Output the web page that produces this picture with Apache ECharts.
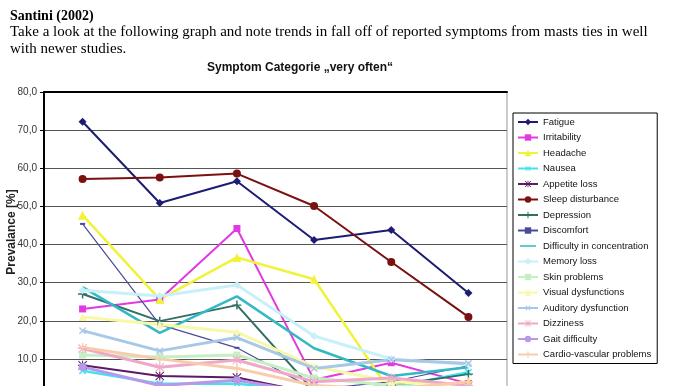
<!DOCTYPE html>
<html>
<head>
<meta charset="utf-8">
<script src="https://cdn.jsdelivr.net/npm/echarts@6/dist/echarts.min.js"></script>
<style>
html,body{margin:0;padding:0;background:#fff;}
#c{width:687px;height:386px;}
</style>
</head>
<body>
<div id="c"></div>
<script>
// ---- data ----
const categories = ['< 10 m', '10 - 50 m', '50 - 100 m', '100 - 200 m', '200 - 300 m', '> 300 m'];
const yTicks = [0, 10, 20, 30, 40, 50, 60, 70, 80];
const seriesNames = ['Fatigue', 'Irritability', 'Headache', 'Nausea', 'Appetite loss', 'Sleep disturbance',
  'Depression', 'Discomfort', 'Difficulty in concentration', 'Memory loss', 'Skin problems',
  'Visual dysfunctions', 'Auditory dysfunction', 'Dizziness', 'Gait difficulty', 'Cardio-vascular problems'];
const fatigue       = [72.2, 50.9, 56.6, 41.2, 43.8, 27.3];
const irritability  = [23.1, 25.6, 44.2, 4.5, 9.0, 3.5];
const headache      = [47.7, 25.6, 36.6, 30.9, 1.0, 4.0];
const nausea        = [6.9, 3.5, 3.5, 1.5, 2.5, 6.5];
const appetiteLoss  = [8.3, 5.5, 5.1, 1.0, 2.0, 1.5];
const sleepDist     = [57.2, 57.6, 58.6, 50.1, 35.4, 21.0];
const depression    = [27.0, 19.9, 24.1, 1.5, 3.0, 6.0];
const discomfort    = [45.4, 19.0, 12.9, 2.0, 4.0, 8.2];
const concentration = [28.8, 16.8, 26.4, 12.8, 5.5, 7.8];
const memoryLoss    = [28.0, 26.5, 29.4, 16.0, 10.0, 8.5];
const skinProblems  = [11.0, 10.5, 11.0, 5.0, 3.0, 2.5];
const visualDysf    = [21.0, 19.0, 17.0, 8.0, 4.0, 3.0];
const auditoryDysf  = [17.4, 12.1, 15.6, 7.5, 9.8, 8.8];
const dizziness     = [12.7, 7.8, 9.7, 4.0, 5.0, 3.0];
const gaitDiff      = [7.9, 3.0, 4.4, 1.0, 1.5, 1.0];
const cardio        = [13.0, 10.0, 7.5, 3.0, 2.0, 4.0];
const allValues = [fatigue, irritability, headache, nausea, appetiteLoss, sleepDist, depression, discomfort,
  concentration, memoryLoss, skinProblems, visualDysf, auditoryDysf, dizziness, gaitDiff, cardio];

// ---- styles ----
const PLUS = 'path://M4.2,0H5.8V4.2H10V5.8H5.8V10H4.2V5.8H0V4.2H4.2Z';
const STAR = 'path://M4.4,0H5.6V10H4.4Z M0,4.4H10V5.6H0Z M0.8,0L10,9.2L9.2,10L0,0.8Z M9.2,0L10,0.8L0.8,10L0,9.2Z';
const LINE_ONLY = 'path://M0,0H0.001V0.001H0Z M0,10H0.001V10.001H0Z M0,4H20V6H0Z';
const styles = [
  {c:'#1c1c74', s:'diamond', z:8, w:2},
  {c:'#e03ae0', s:'rect', z:7, w:2},
  {c:'#f2f23a', s:'triangle', z:9, w:2.5},
  {c:'#40e4f0', s:PLUS, z:9, w:2.5, r:45},
  {c:'#5a1a66', s:STAR, z:9, w:2},
  {c:'#7a1010', s:'circle', z:8, w:2},
  {c:'#2f6f66', s:PLUS, z:9, w:2},
  {c:'#4a4a9a', s:'rect', z:[5,2], w:1.2},
  {c:'#33b8c4', s:'none', z:0, w:2.5},
  {c:'#c8f0f8', s:'diamond', z:8, w:3},
  {c:'#c6efc6', s:'rect', z:7, w:3},
  {c:'#f8f8a8', s:'triangle', z:8, w:3},
  {c:'#a8c8e8', s:PLUS, z:9, w:3, r:45},
  {c:'#f0a8c8', s:STAR, z:9, w:3},
  {c:'#b898e8', s:'circle', z:8, w:3},
  {c:'#f8cca8', s:PLUS, z:9, w:3}
];

const series = seriesNames.map((name, i) => ({
  name: name,
  type: 'line',
  data: allValues[i],
  symbol: styles[i].s,
  symbolSize: styles[i].z,
  symbolRotate: styles[i].r || 0,
  showSymbol: styles[i].s !== 'none',
  lineStyle: {color: styles[i].c, width: styles[i].w},
  itemStyle: {color: styles[i].c},
  emphasis: {disabled: true},
  animation: false
}));

const legendData = seriesNames.map((name, i) =>
  styles[i].s === 'none' ? {name: name, icon: LINE_ONLY} : {name: name});

const chart = echarts.init(document.getElementById('c'), null, {renderer: 'canvas'});
chart.setOption({
  backgroundColor: '#fff',
  animation: false,
  grid: {left: 44, top: 92, width: 463, height: 305, outerBoundsMode: 'none', containLabel: false,
    show: true, borderColor: '#999', borderWidth: 1, backgroundColor: 'transparent'},
  xAxis: [
    {type: 'category', data: categories, boundaryGap: true, position: 'bottom',
     axisLine: {show: true, lineStyle: {color: '#000', width: 2}}, axisTick: {show: false},
     axisLabel: {show: true, fontSize: 10, color: '#222'}},
    {type: 'category', data: categories, boundaryGap: true, position: 'top',
     axisLine: {show: true, lineStyle: {color: '#000', width: 2}}, axisTick: {show: false},
     axisLabel: {show: false}}
  ],
  yAxis: {
    type: 'value', min: yTicks[0], max: yTicks[yTicks.length - 1], interval: 10,
    axisLine: {show: true, lineStyle: {color: '#000', width: 2}},
    axisTick: {show: true, length: 4, lineStyle: {color: '#000'}},
    axisLabel: {margin: 7, fontSize: 10, color: '#333', fontFamily: 'Liberation Sans',
      formatter: v => v.toFixed(1).replace('.', ',')},
    splitLine: {show: true, lineStyle: {color: '#555', width: 1.2}}
  },
  legend: {
    data: legendData, orient: 'vertical', left: 513, top: 113,
    itemWidth: 20, itemHeight: 8, itemGap: 5.5,
    padding: [4, 6, 4, 4],
    backgroundColor: '#fff', borderColor: '#000', borderWidth: 1,
    textStyle: {fontSize: 9.5, color: '#111', fontFamily: 'Liberation Sans'},
    selectedMode: false
  },
  graphic: [
    {type: 'text', left: 10, top: 9, style: {text: 'Santini (2002)', font: 'bold 14px "Liberation Serif"', fill: '#000'}},
    {type: 'text', left: 10, top: 25, style: {text: 'Take a look at the following graph and note trends in fall off of reported symptoms from masts ties in well', font: '15px "Liberation Serif"', fill: '#000'}},
    {type: 'text', left: 10, top: 42, style: {text: 'with newer studies.', font: '15px "Liberation Serif"', fill: '#000'}},
    {type: 'text', x: 300, y: 68, style: {text: 'Symptom Categorie \u201Every often\u201C', font: '13px "Liberation Sans"', fontWeight: 'bold', fill: '#111', align: 'center', verticalAlign: 'middle'}},
    {type: 'text', x: 12, y: 232, rotation: Math.PI / 2, style: {text: 'Prevalance [%]', font: 'bold 12px "Liberation Sans"', fill: '#222', align: 'center', verticalAlign: 'middle'}}
  ],
  series: series
});
</script>
</body>
</html>
